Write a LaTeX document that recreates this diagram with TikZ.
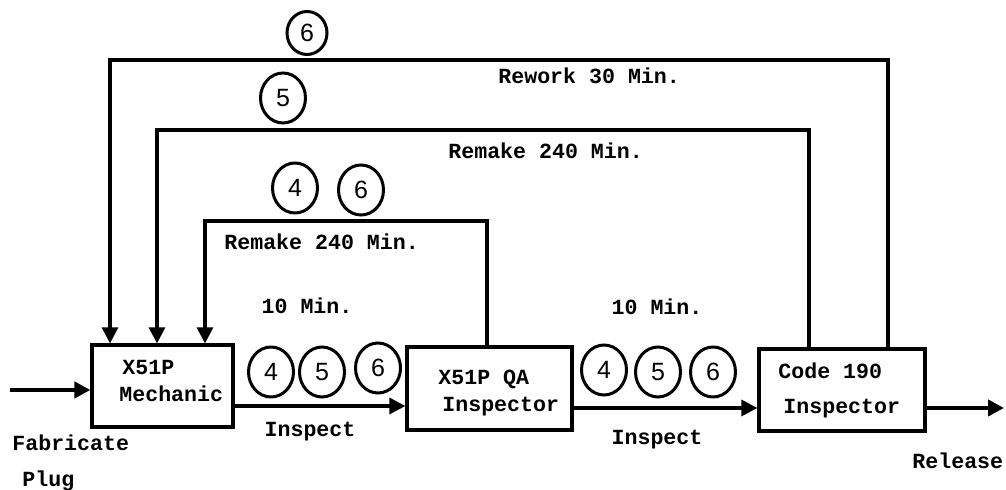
\documentclass[tikz,border=0pt]{standalone}
\usepackage{fontspec}
\setmainfont{Liberation Mono}
\setsansfont{Liberation Sans}
\usetikzlibrary{arrows.meta,shapes.geometric}
\begin{document}
\begin{tikzpicture}[x=0.5pt,y=-0.5pt,
  every node/.style={font=\fontsize{10.8pt}{12pt}\selectfont\bfseries},
  box/.style={draw,line width=1.6pt,inner sep=0pt},
  lbl/.style={inner sep=0pt,anchor=base west},
  clbl/.style={inner sep=0pt,anchor=base},
  num/.style={draw,ellipse,line width=1.5pt,inner sep=0pt,minimum width=22.5pt,minimum height=25pt,font=\fontsize{12.5pt}{14pt}\selectfont\sffamily},
  arr/.style={line width=1.6pt,-{Triangle[length=8pt,width=8pt]}}]
\useasboundingbox (0,0) rectangle (1006,490);
% boxes
\node[box,minimum width=70.5pt,minimum height=41pt] (b1) at (162.5,386) {};
\node[box,minimum width=82.5pt,minimum height=41.5pt] (b2) at (489.5,388.5) {};
\node[box,minimum width=83pt,minimum height=41pt] (b3) at (842,390) {};
% box texts
\node[lbl] (t1a) at (122,375) {X51P};
\node[lbl] (t1b) at (119,402) {Mechanic};
\node[lbl] (t2a) at (438,385) {X51P QA};
\node[lbl] (t2b) at (442,412) {Inspector};
\node[lbl] (t3a) at (778,379) {Code 190};
\node[lbl] (t3b) at (783,414) {Inspector};
% in / out
\coordinate (in) at (10,390);
\coordinate (out) at (1004,408);
\draw[arr,line width=2.2pt] (in) -- (b1.west |- in);
\draw[arr] (b1.east |- 0,406) -- (b2.west |- 0,406);
\draw[arr] (b2.east |- 0,408) -- (b3.west |- 0,408);
\draw[arr,line width=2pt] (b3.east |- out) -- (out);
% feedback loops
\coordinate (c1) at (110,60);
\coordinate (c2) at (157,130);
\coordinate (c3) at (205,221);
\draw[arr] (b3.north -| 888,0) |- (c1) -- (b1.north -| c1);
\draw[arr] (b3.north -| 809,0) |- (c2) -- (b1.north -| c2);
\draw[arr] (b2.north -| 487,0) |- (c3) -- (b1.north -| c3);
% loop labels
\node[lbl] (r1) at (498,84) {Rework 30 Min.};
\node[lbl] (r2) at (448,159) {Remake 240 Min.};
\node[lbl] (r3) at (224,250) {Remake 240 Min.};
% numbered circles
\node[num,minimum width=20pt,minimum height=21.5pt] (n6a) at (307,33) {6};
\node[num] (n5a) at (283,98) {5};
\node[num] (n4a) at (295,188) {4};
\node[num] (n6b) at (361,190) {6};
\node[num] (n4b) at (271,372) {4};
\node[num] (n5b) at (322,372) {5};
\node[num] (n6c) at (378,368) {6};
\node[num] (n4c) at (604,370) {4};
\node[num] (n5c) at (658,372) {5};
\node[num] (n6d) at (713,372) {6};
% other labels
\node[clbl] (m1) at (307,314) {10 Min.};
\node[clbl] (m2) at (657,315) {10 Min.};
\node[clbl] (i1) at (310,437) {Inspect};
\node[clbl] (i2) at (657,445) {Inspect};
\node[lbl] (fab) at (12,451) {Fabricate};
\node[lbl] (plug) at (22,487) {Plug};
\node[lbl] (rel) at (912,469) {Release};
\end{tikzpicture}
\end{document}
